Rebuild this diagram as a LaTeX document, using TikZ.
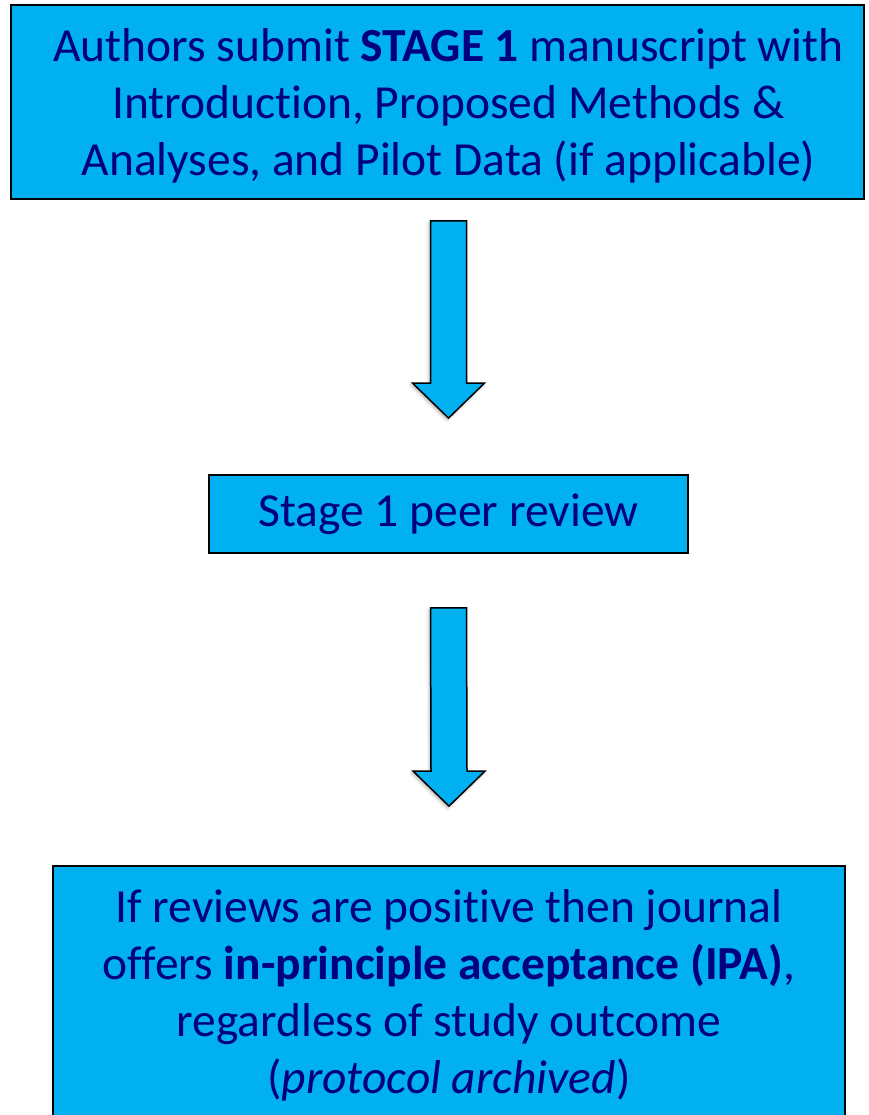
\documentclass[tikz,border=0pt]{standalone}
\usepackage{fontspec}
\setmainfont{Carlito}[Ligatures=NoCommon]
\usepackage{tikz}
\usetikzlibrary{calc, positioning, shadows.blur}
\definecolor{paleblue}{HTML}{00B0F0}
\definecolor{inkblue}{HTML}{000080}
\tikzstyle{stagebox} = [rectangle, draw=black, line width=1.8pt, fill=paleblue, text=inkblue, align=center, inner sep=0pt, font=\fontsize{47.5}{57}\selectfont]
\tikzstyle{boxtext}  = [text=inkblue, align=center, inner sep=0pt, font=\fontsize{47.5}{57}\selectfont]
\tikzstyle{bigarrow} = [draw=black, line width=1.5pt, fill=paleblue, line join=miter,
                        blur shadow={shadow xshift=-1.5pt, shadow yshift=-2pt, shadow blur radius=3pt, shadow opacity=30}]

% block arrow from #1 (top of shaft) down to #2 (tip)
\newcommand{\blockdown}[2]{%
  \draw [bigarrow] ($(#1)+(-18,0)$) -- ($(#1)+(18,0)$) -- ($(#2)+(18,-35)$) -- ($(#2)+(36,-35)$)
    -- (#2) -- ($(#2)+(-36,-35)$) -- ($(#2)+(-18,-35)$) -- cycle;}

\begin{document}
\begin{tikzpicture}[x=1pt, y=-1pt]
    \useasboundingbox (0,0) rectangle (868,1115);

    \node (submit)   [stagebox, minimum width=853pt, minimum height=194pt] at (437.5,102) {};
    \node (submittext) [boxtext] at ($(submit.center)+(11,4)$)
      {Authors submit \textbf{STAGE 1} manuscript with\\Introduction, Proposed Methods \&\\Analyses, and Pilot Data (if applicable)};
    \node (review)   [stagebox, minimum width=479pt, minimum height=78pt] at (448.5,514) {Stage 1 peer review};
    \node (approval) [stagebox, minimum width=792pt, minimum height=258pt] at (449,995)
      {If reviews are positive then journal\\offers \textbf{in-principle acceptance (IPA)},\\regardless of study outcome\\(\textit{protocol archived})};

    \coordinate (a1top) at ($(submit.south -| review.north)+(0,21)$);
    \coordinate (a1tip) at ($(review.north)+(0,-56)$);
    \coordinate (a2top) at ($(review.south)+(0,54)$);
    \coordinate (a2tip) at ($(approval.north)+(0,-59)$);

    \blockdown{a1top}{a1tip}
    \blockdown{a2top}{a2tip}

\end{tikzpicture}
\end{document}
